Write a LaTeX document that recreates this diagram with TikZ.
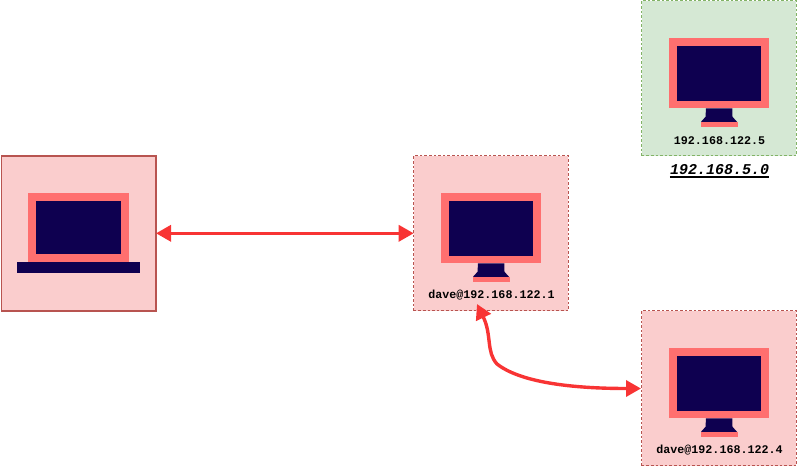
\documentclass[tikz,border=0pt]{standalone}
\usepackage{fontspec}
\setmonofont{Liberation Mono}
\usetikzlibrary{arrows.meta}
\definecolor{boxred}{HTML}{FACDCD}
\definecolor{edgered}{HTML}{B85450}
\definecolor{boxgreen}{HTML}{D5E8D4}
\definecolor{edgegreen}{HTML}{82B366}
\definecolor{pinkc}{HTML}{FF6F6F}
\definecolor{navyc}{HTML}{0E0050}
\definecolor{linkred}{HTML}{F83434}
\tikzset{
  x=1pt,y=-1pt,
  hostbox/.style={draw=edgered,fill=boxred,line width=0.8pt,dash pattern=on 2.6pt off 2pt,minimum width=154.5pt,minimum height=155pt,inner sep=0pt,outer sep=0pt,anchor=north west},
  laptopbox/.style={hostbox,solid,line width=1.8pt},
  greenbox/.style={hostbox,draw=edgegreen,fill=boxgreen},
  iplabel/.style={font=\ttfamily\bfseries\fontsize{11.67pt}{14pt}\selectfont,text=black,inner sep=0pt},
  netlabel/.style={font=\ttfamily\bfseries\itshape\fontsize{15pt}{18pt}\selectfont,text=black,inner sep=0pt},
  link/.style={draw=linkred,line width=3.4pt,{Triangle[length=15pt,width=16pt]}-{Triangle[length=15pt,width=16pt]}},
  pics/monitor/.style={code={
    \fill[pinkc] (0,0) rectangle (100,70.5);
    \fill[navyc] (8,7.7) rectangle (92.3,63);
    \fill[navyc] (37,70.5) -- (63.3,70.5) -- (63.5,79) -- (68,84) -- (32,84) -- (36.5,79) -- cycle;
    \fill[pinkc] (32,84) rectangle (69,89.5);
  }},
  pics/laptop/.style={code={
    \fill[pinkc] (0,0) rectangle (101,69);
    \fill[navyc] (8,8) rectangle (93,61);
    \fill[navyc] (-11,69) rectangle (112,80);
  }}
}
\begin{document}
\begin{tikzpicture}
\useasboundingbox (0,0) rectangle (797,466);
\node[laptopbox] (lap) at (1.5,155.8) {};
\node[hostbox] (gw) at (413.7,155.8) {};
\node[greenbox] (top) at (641.7,0.8) {};
\node[hostbox] (low) at (641.7,310.8) {};
\pic at (28,192.8) {laptop};
\pic at (441,192.8) {monitor};
\pic at (669,37.8) {monitor};
\pic at (669,347.8) {monitor};
\node[iplabel] (ipgw) at (491.5,294.6) {dave@192.168.122.1};
\node[iplabel] (iptop) at (719.5,140.6) {192.168.122.5};
\node[iplabel] (iplow) at (719.5,449.6) {dave@192.168.122.4};
\node[netlabel] (net) at (719.5,170) {192.168.5.0};
\draw[black,line width=1.6pt] (net.south west)++(0,1.5) -- ([yshift=-1.5pt]net.south east);
\draw[link] (lap.east) -- (gw.west);
\coordinate (gwbot) at (477,304);
\coordinate (lowleft) at (641,388.5);
\draw[link] (gwbot) .. controls (492,335) and (486,352) .. (497,364) .. controls (520,382) and (570,388.5) .. (lowleft);
\end{tikzpicture}
\end{document}
